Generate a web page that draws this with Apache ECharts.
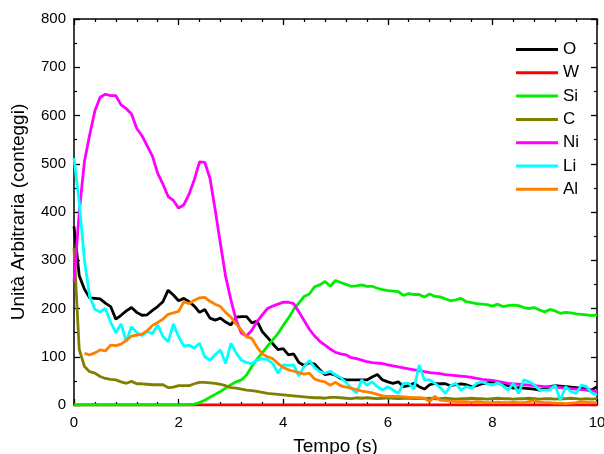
<!DOCTYPE html>
<html>
<head>
<meta charset="utf-8">
<script src="https://cdn.jsdelivr.net/npm/echarts@6/dist/echarts.min.js"></script>
<style>
  html, body { margin: 0; padding: 0; background: #fff; }
  #chart { width: 604px; height: 454px; }
</style>
</head>
<body>
<div id="chart"></div>
<script>
// Sampling times (s)
const tempo = [
  0.0,0.1,0.2,0.3,0.4,0.5,0.6,0.7,0.8,0.9,
  1.0,1.1,1.2,1.3,1.4,1.5,1.6,1.7,1.8,1.9,
  2.0,2.1,2.2,2.3,2.4,2.5,2.6,2.7,2.8,2.9,
  3.0,3.1,3.2,3.3,3.4,3.5,3.6,3.7,3.8,3.9,
  4.0,4.1,4.2,4.3,4.4,4.5,4.6,4.7,4.8,4.9,
  5.0,5.1,5.2,5.3,5.4,5.5,5.6,5.7,5.8,5.9,
  6.0,6.1,6.2,6.3,6.4,6.5,6.6,6.7,6.8,6.9,
  7.0,7.1,7.2,7.3,7.4,7.5,7.6,7.7,7.8,7.9,
  8.0,8.1,8.2,8.3,8.4,8.5,8.6,8.7,8.8,8.9,
  9.0,9.1,9.2,9.3,9.4,9.5,9.6,9.7,9.8,9.9,
  10.0
];

// Counts per element
const O = [
  370,268,240,222,221,220,211,204,178,186,
  195,202,192,186,187,196,204,214,238,228,
  216,221,214,205,192,198,180,176,180,172,
  166,182,183,183,170,174,152,140,127,115,
  117,104,106,88,82,88,85,73,63,65,
  62,55,52,52,52,52,52,58,63,52,
  48,45,48,38,40,45,38,33,42,45,
  44,44,40,42,44,42,38,40,44,46,
  48,46,44,40,35,36,35,34,33,31,
  34,38,40,39,38,37,36,35,33,31,
  38
];
const W = [
  0,0,0,0,0,0,0,0,0,0,
  0,0,0,0,0,0,0,0,0,0,
  0,0,0,0,0,0,0,0,0,0,
  0,0,0,0,0,0,0,0,0,0,
  0,0,0,0,0,0,0,0,0,0,
  0,0,0,0,0,0,0,0,0,0,
  0,0,0,0,0,0,0,0,0,0,
  0,0,0,0,0,0,0,0,0,0,
  0,0,0,0,0,0,0,0,0,0,
  0,0,0,0,0,0,0,0,0,0,
  0
];
const Si = [
  0,0,0,0,0,0,0,0,0,0,
  0,0,0,0,0,0,0,0,0,0,
  0,0,1,2,5,10,16,22,28,35,
  42,48,52,62,80,95,108,122,135,148,
  165,180,198,211,225,230,245,249,256,246,
  258,254,250,246,247,249,246,246,242,239,
  237,236,235,227,231,229,229,224,230,225,
  224,220,216,218,221,214,212,210,209,208,
  205,209,204,206,207,206,202,200,202,197,
  193,198,195,190,192,191,189,188,187,185,
  187
];
const C = [
  325,115,80,69,66,59,55,53,52,48,
  45,49,44,44,43,42,42,42,36,37,
  40,40,40,44,47,47,46,45,43,40,
  36,35,33,31,30,28,26,24,23,22,
  21,20,19,18,17,16,15,15,14,16,
  16,15,14,13,15,14,15,14,13,14,
  15,14,13,14,14,13,14,13,14,13,
  13,14,13,12,13,13,14,13,13,12,
  13,14,13,13,12,13,13,14,13,12,
  13,13,12,13,13,14,13,12,13,12,
  13
];
const Ni = [
  255,400,505,560,610,638,644,641,641,622,
  614,603,573,558,537,516,480,458,432,424,
  408,415,437,467,504,503,470,404,334,266,
  218,176,149,143,155,173,187,200,205,209,
  213,213,210,193,175,157,143,132,124,116,
  109,106,104,98,96,93,90,88,87,86,
  83,81,79,77,75,73,71,69,67,66,
  65,63,62,61,60,59,57,55,53,52,
  51,49,47,45,44,43,42,41,40,39,
  38,38,37,36,35,34,33,32,31,29,
  28
];
const Li = [
  512,420,300,225,198,193,200,172,150,168,
  132,162,150,144,152,148,166,142,131,168,
  142,122,124,118,128,100,93,104,114,86,
  128,108,93,88,86,93,96,94,86,66,
  83,82,83,60,80,92,78,69,66,70,
  62,57,47,35,25,52,41,48,38,31,
  38,31,24,45,45,33,83,52,52,45,
  36,24,40,45,31,38,35,45,48,44,
  41,46,40,31,45,24,52,48,42,31,
  31,31,41,10,38,28,24,41,38,25,
  21
];
const Al = [
  null,null,107,104,108,114,112,124,123,126,
  134,143,145,147,154,165,171,178,188,191,
  194,214,210,217,222,223,215,209,204,192,
  182,168,155,141,138,120,106,100,96,86,
  78,73,70,67,64,66,54,50,48,41,
  47,40,37,35,32,29,27,25,22,19,
  18,18,18,17,16,15,15,14,7,18,
  10,9,8,7,7,7,6,7,6,5,
  5,6,5,5,6,5,5,7,9,6,
  5,5,4,4,3,4,5,7,6,5,
  5
];

const names = ['O', 'W', 'Si', 'C', 'Ni', 'Li', 'Al'];
const values = [O, W, Si, C, Ni, Li, Al];
const colors = ['#000000', '#ff0000', '#00ee00', '#808000', '#ff00ff', '#00ffff', '#ff8000'];

const font = 'Liberation Sans, Arial, sans-serif';

const pairs = arr => tempo.map((t, i) => [t, arr[i]]);

const series = names.map((n, k) => ({
  name: n,
  type: 'line',
  data: pairs(values[k]),
  showSymbol: false,
  symbol: 'none',
  connectNulls: false,
  lineStyle: { color: colors[k], width: 2.8 },
  itemStyle: { color: colors[k] },
  z: 2
}));

// Frame axes: ticks pointing into the plot on all four sides
function frameAxis(extra, minorSplit) {
  return Object.assign({
    axisLine: { show: true, onZero: false, lineStyle: { color: '#000', width: 1.5 } },
    axisTick: { show: true, inside: true, length: 6, lineStyle: { color: '#000', width: 1.3 } },
    minorTick: { show: true, splitNumber: minorSplit, length: 3, lineStyle: { color: '#000', width: 1.2 } },
    splitLine: { show: false },
    minorSplitLine: { show: false }
  }, extra);
}

const chart = echarts.init(document.getElementById('chart'), null, { renderer: 'canvas' });
chart.setOption({
  animation: false,
  backgroundColor: '#fff',
  grid: { left: 74, right: 7, top: 19, bottom: 49, containLabel: false, outerBoundsMode: 'none' },
  legend: {
    orient: 'vertical',
    left: 511,
    top: 36,
    icon: 'rect',
    itemWidth: 42,
    itemHeight: 3,
    itemGap: 6.3,
    data: names,
    textStyle: { fontFamily: font, fontSize: 17, color: '#000', lineHeight: 17 }
  },
  xAxis: [
    frameAxis({
      type: 'value', min: 0, max: 10, interval: 2, position: 'bottom',
      name: 'Tempo (s)', nameLocation: 'middle', nameGap: 32,
      nameTextStyle: { fontFamily: font, fontSize: 19, color: '#000' },
      axisLabel: { fontFamily: font, fontSize: 15, color: '#000', margin: 10 }
    }, 5),
    frameAxis({
      type: 'value', min: 0, max: 10, interval: 2, position: 'top',
      axisLabel: { show: false }
    }, 5)
  ],
  yAxis: [
    frameAxis({
      type: 'value', min: 0, max: 800, interval: 100, position: 'left',
      name: 'Unità Arbitraria (conteggi)', nameLocation: 'middle', nameGap: 46,
      nameTextStyle: { fontFamily: font, fontSize: 19, color: '#000' },
      axisLabel: { fontFamily: font, fontSize: 15, color: '#000', margin: 8 }
    }, 2),
    frameAxis({
      type: 'value', min: 0, max: 800, interval: 100, position: 'right',
      axisLabel: { show: false }
    }, 2)
  ],
  series: series
});
</script>
</body>
</html>
